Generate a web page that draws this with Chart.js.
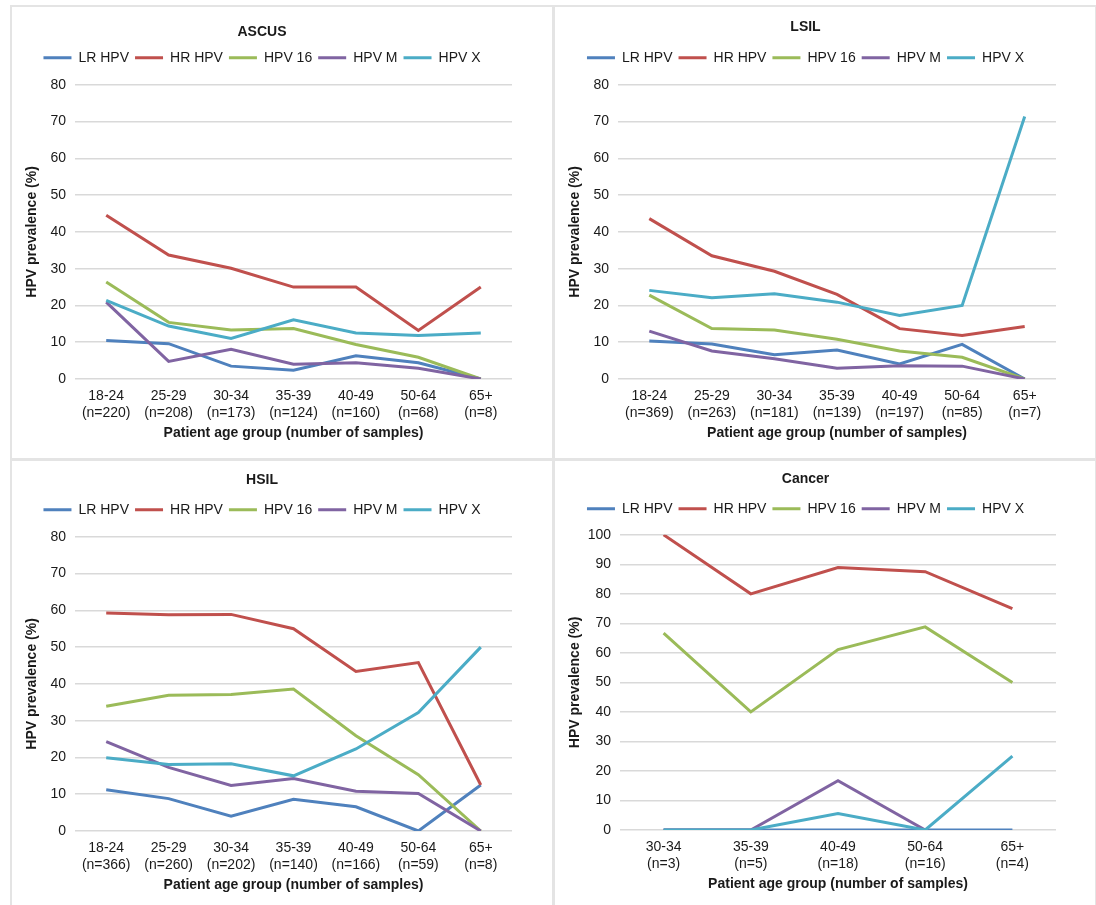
<!DOCTYPE html>
<html>
<head>
<meta charset="utf-8">
<script src="https://cdn.jsdelivr.net/npm/chart.js@4.4.1/dist/chart.umd.min.js"></script>
<style>
  body { margin: 0; background: #fff; width: 1096px; height: 905px; overflow: hidden; position: relative; }
  .frame { position: absolute; border: 2px solid #e4e4e4; box-sizing: border-box; }
  canvas { position: absolute; }
</style>
</head>
<body>
<div class="frame" style="left:10px;top:5px;width:545px;height:456px"></div>
<div class="frame" style="left:552px;top:5px;width:545px;height:456px"></div>
<div class="frame" style="left:10px;top:458px;width:545px;height:460px"></div>
<div class="frame" style="left:552px;top:458px;width:545px;height:460px"></div>
<canvas id="ascus" style="left:12px;top:8px"></canvas>
<canvas id="lsil" style="left:555px;top:8px"></canvas>
<canvas id="hsil" style="left:12px;top:462px"></canvas>
<canvas id="cancer" style="left:555px;top:462px"></canvas>
<script>
// series names and colours (same for all four panels)
const seriesNames = ['LR HPV', 'HR HPV', 'HPV 16', 'HPV M', 'HPV X'];
const seriesColors = ['#4F81BD', '#C0504D', '#9BBB59', '#8064A2', '#4BACC6'];

// ASCUS
const ascusAges = ['18-24', '25-29', '30-34', '35-39', '40-49', '50-64', '65+'];
const ascusN = [220, 208, 173, 124, 160, 68, 8];
const ascusLR = [10.5, 9.6, 3.5, 2.4, 6.3, 4.4, 0];
const ascusHR = [44.5, 33.7, 30.1, 25.0, 25.0, 13.2, 25.0];
const ascus16 = [26.4, 15.4, 13.3, 13.7, 9.4, 5.9, 0];
const ascusM = [20.9, 4.8, 8.1, 4.0, 4.4, 2.9, 0];
const ascusX = [21.4, 14.4, 11.0, 16.1, 12.5, 11.8, 12.5];

// LSIL
const lsilAges = ['18-24', '25-29', '30-34', '35-39', '40-49', '50-64', '65+'];
const lsilN = [369, 263, 181, 139, 197, 85, 7];
const lsilLR = [10.3, 9.5, 6.6, 7.9, 4.1, 9.4, 0];
const lsilHR = [43.6, 33.5, 29.3, 23.0, 13.7, 11.8, 14.3];
const lsil16 = [22.8, 13.7, 13.3, 10.8, 7.6, 5.9, 0];
const lsilM = [13.0, 7.6, 5.5, 2.9, 3.6, 3.5, 0];
const lsilX = [24.1, 22.1, 23.2, 20.9, 17.3, 20.0, 71.4];

// HSIL
const hsilAges = ['18-24', '25-29', '30-34', '35-39', '40-49', '50-64', '65+'];
const hsilN = [366, 260, 202, 140, 166, 59, 8];
const hsilLR = [11.2, 8.8, 4.0, 8.6, 6.6, 0, 12.5];
const hsilHR = [59.3, 58.8, 58.9, 55.0, 43.4, 45.8, 12.5];
const hsil16 = [33.9, 36.9, 37.1, 38.6, 25.9, 15.3, 0];
const hsilM = [24.3, 17.3, 12.4, 14.3, 10.8, 10.2, 0];
const hsilX = [19.9, 18.1, 18.3, 15.0, 22.3, 32.2, 50.0];

// Cancer (HPV M has no point at 65+)
const cancerAges = ['30-34', '35-39', '40-49', '50-64', '65+'];
const cancerN = [3, 5, 18, 16, 4];
const cancerLR = [0, 0, 0, 0, 0];
const cancerHR = [100, 80.0, 88.9, 87.5, 75.0];
const cancer16 = [66.7, 40.0, 61.1, 68.8, 50.0];
const cancerM = [0, 0, 16.7, 0, null];
const cancerX = [0, 0, 5.6, 0, 25.0];

const FONT = 'Arial, "Liberation Sans", sans-serif';
const TEXT = '#1a1a1a';

// make room under the legend like the Excel charts
const legendGap = {
  id: 'legendGap',
  beforeInit(chart) {
    const fit = chart.legend.fit;
    chart.legend.fit = function () {
      fit.call(this);
      this.height += chart.options.plugins.legendGap.extra;
    };
  }
};

function makeChart(id, title, ages, ns, series, yMax, box) {
  const canvas = document.getElementById(id);
  canvas.width = box.w;
  canvas.height = box.h;
  const labels = ages.map((a, i) => [a, '(n=' + ns[i] + ')']);
  return new Chart(canvas, {
    type: 'line',
    data: {
      labels: labels,
      datasets: series.map((vals, i) => ({
        label: seriesNames[i],
        data: vals,
        borderColor: seriesColors[i],
        backgroundColor: seriesColors[i],
        borderWidth: 3,
        pointRadius: 0,
        tension: 0,
        order: series.length - i
      }))
    },
    options: {
      responsive: false,
      animation: false,
      layout: { padding: { left: 0, right: box.right, top: 0, bottom: box.bottom } },
      plugins: {
        title: {
          display: true, text: title, color: TEXT,
          font: { family: FONT, size: 14, weight: 'bold' },
          padding: { top: box.titleTop, bottom: box.titleBottom }
        },
        legend: {
          position: 'top',
          labels: {
            usePointStyle: true, pointStyle: 'line', pointStyleWidth: 28,
            color: TEXT, padding: 6,
            font: { family: FONT, size: 14 },
            sort: (a, b) => a.datasetIndex - b.datasetIndex
          }
        },
        legendGap: { extra: box.gap },
        tooltip: { enabled: false }
      },
      scales: {
        x: {
          offset: true,
          grid: { display: false, drawTicks: false },
          border: { display: false },
          ticks: { color: TEXT, font: { family: FONT, size: 14 }, padding: 9, maxRotation: 0, autoSkip: false },
          title: {
            display: true, text: 'Patient age group (number of samples)', color: TEXT,
            font: { family: FONT, size: 14, weight: 'bold' }, padding: 0
          },
          afterFit: s => { s.height = 63; }
        },
        y: {
          min: 0, max: yMax,
          grid: { color: '#d9d9d9', lineWidth: 1.5, drawTicks: false },
          border: { display: false },
          ticks: { stepSize: 10, color: TEXT, font: { family: FONT, size: 14 }, padding: 9 },
          title: {
            display: true, text: 'HPV prevalence (%)', color: TEXT,
            font: { family: FONT, size: 14, weight: 'bold' }, padding: { top: 12, bottom: 0 }
          },
          afterFit: s => { s.width = box.left; }
        }
      }
    },
    plugins: [legendGap]
  });
}

makeChart('ascus', 'ASCUS', ascusAges, ascusN, [ascusLR, ascusHR, ascus16, ascusM, ascusX], 80,
  { w: 540, h: 450, left: 63, right: 40, bottom: 16, titleTop: 16, titleBottom: 4, gap: 10 });
makeChart('lsil', 'LSIL', lsilAges, lsilN, [lsilLR, lsilHR, lsil16, lsilM, lsilX], 80,
  { w: 538, h: 450, left: 63, right: 37, bottom: 16, titleTop: 11, titleBottom: 9, gap: 10 });
makeChart('hsil', 'HSIL', hsilAges, hsilN, [hsilLR, hsilHR, hsil16, hsilM, hsilX], 80,
  { w: 540, h: 443, left: 63, right: 40, bottom: 11, titleTop: 10, titleBottom: 8, gap: 10 });
makeChart('cancer', 'Cancer', cancerAges, cancerN, [cancerLR, cancerHR, cancer16, cancerM, cancerX], 100,
  { w: 538, h: 443, left: 65, right: 37, bottom: 12, titleTop: 9, titleBottom: 8, gap: 9 });
</script>
</body>
</html>
